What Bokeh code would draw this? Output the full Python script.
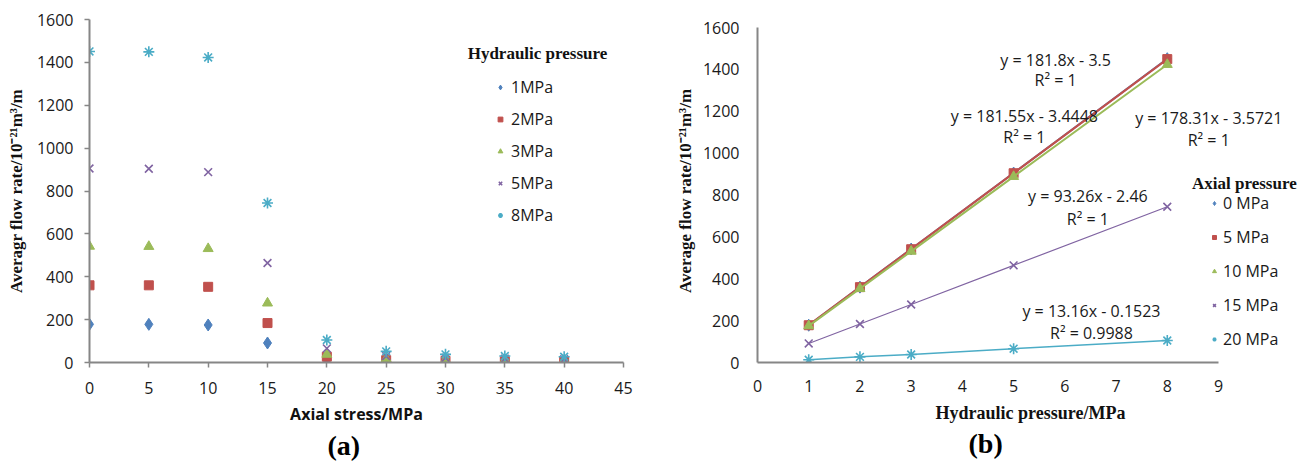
from bokeh.plotting import figure
from bokeh.layouts import row
from bokeh.models import FixedTicker, Legend, LegendItem, Label, Range1d, Title
from bokeh.embed import file_html
from bokeh.resources import INLINE

# ---------------- data: panel (a) ----------------
axial_stress = [0, 5, 10, 15, 20, 25, 30, 35, 40]
hp_labels = ["1MPa", "2MPa", "3MPa", "5MPa", "8MPa"]
flow_1 = [178, 178, 175, 91, 13, 5, 4, 3, 2]
flow_2 = [360, 360, 353, 184, 27, 11, 8, 6, 5]
flow_3 = [542, 541, 531, 277, 38, 17, 12, 10, 8]
flow_5 = [905, 904, 888, 464, 66, 30, 22, 18, 15]
flow_8 = [1451, 1449, 1423, 744, 105, 52, 38, 30, 27]

# ---------------- data: panel (b) ----------------
hyd_pressure = [1, 2, 3, 5, 8]
ap_labels = ["0 MPa", "5 MPa", "10 MPa", "15 MPa", "20 MPa"]
ap_0 = [178, 360, 542, 905, 1451]
ap_5 = [178, 360, 541, 904, 1449]
ap_10 = [175, 353, 531, 888, 1423]
ap_15 = [91, 184, 277, 464, 744]
ap_20 = [13, 27, 38, 66, 105]

eq_texts = ["y = 181.8x - 3.5", "y = 181.55x - 3.4448", "y = 178.31x - 3.5721",
            "y = 93.26x - 2.46", "y = 13.16x - 0.1523"]
r2_texts = ["R\u00b2 = 1", "R\u00b2 = 1", "R\u00b2 = 1", "R\u00b2 = 1", "R\u00b2 = 0.9988"]

x_ticks_a = [0, 5, 10, 15, 20, 25, 30, 35, 40, 45]
x_ticks_b = [0, 1, 2, 3, 4, 5, 6, 7, 8, 9]
y_ticks = [0, 200, 400, 600, 800, 1000, 1200, 1400, 1600]

# ---------------- styles / layout ----------------
colors = ["#4F81BD", "#C0504D", "#9BBB59", "#8064A2", "#4BACC6"]
markers = ["diamond", "square", "triangle", "x", "asterisk"]
msizes = [12, 9, 10, 11, 11]
line_widths_b = [2, 2.2, 2, 1.2, 1.5]
SANS = "Open Sans"
SERIF = "Liberation Serif"
AXIS_GRAY = "#868686"

H = 463
TOP = 19
FRAME_H = 343
BOTTOM = H - TOP - FRAME_H


def style_axes(p, ticks_out):
    p.outline_line_color = None
    p.xgrid.grid_line_color = None
    p.ygrid.grid_line_color = None
    for ax in (p.xaxis[0], p.yaxis[0]):
        ax.axis_line_color = AXIS_GRAY
        ax.axis_line_width = 2
        ax.major_tick_line_color = AXIS_GRAY if ticks_out else None
        ax.major_tick_line_width = 1.5
        ax.major_tick_in = 0
        ax.major_tick_out = 5 if ticks_out else 0
        ax.minor_tick_line_color = None
        ax.major_label_text_font = SANS
        ax.major_label_text_font_size = "16px"
        ax.major_label_text_color = "#1a1a1a"
        ax.axis_label_text_color = "#111111"


# ================= panel (a) =================
pa = figure(width=658, height=H, x_range=Range1d(0, 45), y_range=Range1d(0, 1600),
            output_backend="svg", toolbar_location=None,
            min_border_left=89, min_border_right=35, min_border_top=TOP, min_border_bottom=BOTTOM)
style_axes(pa, True)
pa.xaxis.ticker = FixedTicker(ticks=x_ticks_a)
pa.yaxis.ticker = FixedTicker(ticks=y_ticks)
pa.xaxis.major_label_standoff = 14
pa.yaxis.major_label_standoff = 11
pa.xaxis.axis_label = "Axial stress/MPa"
pa.xaxis.axis_label_text_font = SANS
pa.xaxis.axis_label_text_font_style = "bold"
pa.xaxis.axis_label_text_font_size = "16px"
pa.xaxis.axis_label_standoff = 6
pa.yaxis.axis_label = "Averagr flow rate/10\u207b\u00b2\u00b9m\u00b3/m"
pa.yaxis.axis_label_text_font = SERIF
pa.yaxis.axis_label_text_font_style = "bold"
pa.yaxis.axis_label_text_font_size = "17px"
pa.yaxis.axis_label_standoff = 8

series_a = [flow_1, flow_2, flow_3, flow_5, flow_8]
items_a = []
for lab, ys, c, m, s in zip(hp_labels, series_a, colors, markers, msizes):
    r = pa.scatter(axial_stress, ys, marker=m, size=s, fill_color=c, line_color=c,
                   line_width=1.6 if m in ("x", "asterisk") else 1)
    items_a.append(LegendItem(label=lab, renderers=[r]))

leg_a = Legend(items=items_a, location=(405, 136), orientation="vertical",
               glyph_width=12, glyph_height=20, label_height=20, spacing=10,
               label_standoff=5, padding=0, margin=0,
               label_text_font=SANS, label_text_font_size="16px", label_text_color="#1a1a1a",
               border_line_color=None, background_fill_alpha=0)
pa.add_layout(leg_a)
pa.add_layout(Label(x=448, y=309, x_units="screen", y_units="screen", text="Hydraulic pressure",
                    text_font=SERIF, text_font_style="bold", text_font_size="17px",
                    text_align="center", text_baseline="middle", text_color="#111111"))
pa.add_layout(Title(text="(a)", align="left", offset=238, standoff=0,
                    text_font=SERIF, text_font_style="bold", text_font_size="28px",
                    text_color="#000000"), "below")

# ================= panel (b) =================
WB = 649
BL, BR = 99, 4
frame_w_b = WB - BL - BR
x_end_b = 9 * frame_w_b / 461
y_end_b = 1600 * FRAME_H / 335
pb = figure(width=WB, height=H, x_range=Range1d(0, x_end_b), y_range=Range1d(0, y_end_b),
            output_backend="svg", toolbar_location=None,
            min_border_left=BL, min_border_right=BR, min_border_top=TOP, min_border_bottom=BOTTOM)
style_axes(pb, False)
pb.xaxis.bounds = (0, 9)
pb.yaxis.bounds = (0, 1600)
pb.xaxis.ticker = FixedTicker(ticks=x_ticks_b)
pb.yaxis.ticker = FixedTicker(ticks=y_ticks)
pb.xaxis.major_label_standoff = 17
pb.yaxis.major_label_standoff = 18
pb.xaxis.axis_label = "Hydraulic pressure/MPa"
pb.xaxis.axis_label_text_font = SERIF
pb.xaxis.axis_label_text_font_style = "bold"
pb.xaxis.axis_label_text_font_size = "18px"
pb.xaxis.axis_label_standoff = 8
pb.yaxis.axis_label = "Average flow rate/10\u207b\u00b2\u00b9m\u00b3/m"
pb.yaxis.axis_label_text_font = SERIF
pb.yaxis.axis_label_text_font_style = "bold"
pb.yaxis.axis_label_text_font_size = "17px"
pb.yaxis.axis_label_standoff = 5

series_b = [ap_0, ap_5, ap_10, ap_15, ap_20]
items_b = []
for lab, ys, c, m, s, lw in zip(ap_labels, series_b, colors, markers, msizes, line_widths_b):
    pb.line(hyd_pressure, ys, line_color=c, line_width=lw)
    r = pb.scatter(hyd_pressure, ys, marker=m, size=s, fill_color=c, line_color=c,
                   line_width=1.6 if m in ("x", "asterisk") else 1)
    items_b.append(LegendItem(label=lab, renderers=[r]))

leg_b = Legend(items=items_b, location=(452, 12), orientation="vertical",
               glyph_width=10, glyph_height=20, label_height=20, spacing=12,
               label_standoff=4, padding=0, margin=0,
               label_text_font=SANS, label_text_font_size="16px", label_text_color="#1a1a1a",
               border_line_color=None, background_fill_alpha=0)
pb.add_layout(leg_b)
pb.add_layout(Label(x=489, y=179, x_units="screen", y_units="screen", text="Axial  pressure",
                    text_font=SERIF, text_font_style="bold", text_font_size="17px",
                    text_align="center", text_baseline="middle", text_color="#111111"))

eq_x = [5.82, 5.21, 8.81, 6.45, 6.52]
eq_y = [1447, 1175, 1170, 793, 248]
r2_y = [1351, 1079, 1065, 683, 143]
for t, x, y in zip(eq_texts, eq_x, eq_y):
    pb.add_layout(Label(x=x, y=y, text=t, text_font=SANS, text_font_size="16px",
                        text_align="center", text_baseline="middle", text_color="#1a1a1a"))
for t, x, y in zip(r2_texts, eq_x, r2_y):
    pb.add_layout(Label(x=x, y=y, text=t, text_font=SANS, text_font_size="16px",
                        text_align="center", text_baseline="middle", text_color="#1a1a1a"))

pb.add_layout(Title(text="(b)", align="left", offset=211, standoff=0,
                    text_font=SERIF, text_font_style="bold", text_font_size="28px",
                    text_color="#000000"), "below")

layout = row(pa, pb)
open("out.html", "w").write(file_html(layout, INLINE))
